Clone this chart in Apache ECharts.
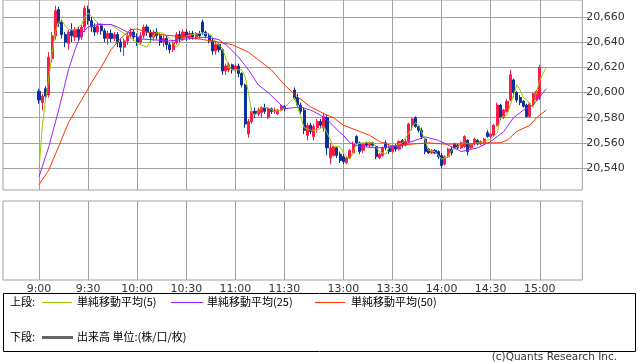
<!DOCTYPE html>
<html><head><meta charset="utf-8">
<script src="https://cdn.jsdelivr.net/npm/echarts@6/dist/echarts.min.js"></script>
<style>html,body{margin:0;padding:0;background:#fff}#c{width:638px;height:362px}</style>
</head><body><div id="c"></div>
<script>
// ---- tick labels ----
const yTicks = [20540, 20560, 20580, 20600, 20620, 20640, 20660];
const xLabelTimes = ['9:00','9:30','10:00','10:30','11:00','11:30','13:00','13:30','14:00','14:30','15:00'];
const gapTimes = ['11:32','11:34'];

// ---- 2-minute candles [open, close, low, high] ----
const amCandles = [
 [20601,20594,20591,20603],[20592,20597,20586,20599],[20603,20597,20595,20605],[20598,20628,20596,20632],
 [20627,20645,20624,20648],[20645,20665,20642,20669],[20666,20655,20652,20668],[20656,20646,20643,20658],
 [20646,20640,20636,20648],[20639,20648,20634,20650],[20649,20645,20640,20655],[20644,20650,20641,20652],
 [20650,20644,20641,20652],[20644,20652,20642,20654],[20652,20667,20648,20669],[20666,20657,20654,20669],
 [20657,20652,20648,20660],[20652,20648,20645,20655],[20648,20653,20646,20656],[20653,20649,20646,20655],
 [20649,20643,20640,20651],[20643,20647,20638,20649],[20647,20643,20640,20650],[20643,20646,20641,20648],
 [20646,20640,20636,20648],[20640,20636,20632,20643],[20636,20641,20629,20643],[20641,20645,20638,20648],
 [20645,20648,20643,20651],[20648,20644,20641,20650],[20644,20640,20637,20647],[20640,20645,20638,20648],
 [20645,20652,20643,20654],[20652,20648,20645,20654],[20648,20644,20640,20650],[20644,20648,20641,20650],
 [20648,20645,20642,20651],[20645,20640,20637,20647],[20640,20643,20636,20646],[20643,20638,20634,20645],
 [20638,20634,20631,20640],[20634,20640,20632,20642],[20640,20646,20638,20648],[20646,20643,20640,20649],
 [20643,20648,20641,20650],[20648,20644,20641,20650],[20644,20647,20642,20649],[20647,20644,20642,20649],
 [20644,20647,20642,20648],[20647,20645,20643,20649],[20656,20648,20646,20658],[20648,20645,20643,20649],
 [20645,20641,20639,20647],[20641,20633,20630,20643],[20633,20638,20630,20641],[20638,20634,20632,20639],
 [20634,20617,20614,20635],[20617,20621,20614,20623],[20618,20622,20616,20624],[20622,20618,20615,20623],
 [20618,20621,20616,20623],[20621,20615,20612,20623],[20615,20606,20604,20616],[20606,20575,20572,20607],
 [20567,20577,20564,20579],[20577,20585,20575,20588],[20585,20583,20580,20588],[20583,20586,20581,20588],
 [20584,20588,20580,20589],[20588,20585,20583,20591],[20580,20587,20579,20588],[20587,20585,20583,20588],
 [20585,20586,20583,20588],[20583,20586,20582,20587],[20586,20589,20585,20590],[20589,20587,20585,20590]
];
const pmCandles = [
 [20602,20595,20594,20604],[20596,20590,20588,20599],[20590,20585,20583,20592],[20586,20570,20567,20588],
 [20566,20574,20562,20576],[20574,20569,20567,20576],[20565,20573,20562,20575],[20572,20577,20568,20579],
 [20577,20574,20572,20579],[20572,20581,20569,20584],[20580,20556,20550,20582],[20548,20556,20543,20560],
 [20550,20557,20549,20558],[20556,20550,20548,20557],[20551,20546,20544,20553],[20549,20545,20543,20551],
 [20544,20548,20543,20549],[20548,20554,20547,20555],[20552,20559,20551,20561],[20565,20560,20559,20566],
 [20560,20553,20551,20561],[20554,20559,20552,20560],[20560,20558,20557,20561],[20558,20560,20556,20561],
 [20560,20558,20557,20561],[20557,20549,20547,20558],[20548,20551,20547,20552],[20550,20556,20549,20557],
 [20560,20556,20554,20562],[20556,20553,20551,20558],[20553,20557,20552,20558],[20557,20555,20553,20559],
 [20555,20561,20554,20562],[20562,20558,20556,20563],[20558,20561,20557,20563],[20561,20575,20560,20576],
 [20574,20579,20570,20580],[20580,20573,20572,20581],[20573,20570,20568,20574],[20570,20565,20563,20572],
 [20563,20553,20551,20564],[20555,20552,20551,20556],[20552,20554,20551,20555],[20554,20552,20551,20555],
 [20553,20549,20547,20554],[20550,20542,20540,20552],[20543,20549,20542,20550],[20549,20555,20548,20556],
 [20555,20552,20550,20557],[20559,20556,20555,20560],[20558,20556,20555,20559],[20556,20560,20555,20561],
 [20557,20565,20556,20566],[20562,20553,20550,20563],[20556,20559,20555,20560],[20559,20563,20558,20564],
 [20562,20559,20558,20563],[20559,20561,20558,20562],[20560,20563,20559,20564],[20568,20565,20564,20570],
 [20565,20567,20564,20568],[20566,20574,20565,20575],[20574,20590,20573,20592],[20590,20580,20578,20591],
 [20580,20586,20579,20587],[20585,20593,20584,20595],[20594,20614,20593,20618],[20610,20600,20596,20611],
 [20600,20594,20592,20601],[20596,20592,20590,20598],[20593,20589,20588,20594],[20590,20581,20580,20591],
 [20581,20591,20580,20592],[20591,20599,20590,20600],[20594,20601,20593,20602],[20596,20620,20594,20622]
];

// ---- moving averages [time, value] ----
const ma5 = [
 ['9:00',20539],['9:02',20573],['9:04',20594],['9:06',20612],['9:08',20631],['9:10',20648],['9:12',20656],
 ['9:14',20657],['9:16',20653],['9:18',20650],['9:20',20650],['9:22',20650],['9:24',20652],['9:26',20654],
 ['9:28',20660],['9:30',20663],['9:32',20661],['9:36',20655],['9:40',20654],['9:44',20654],['9:48',20650],
 ['9:52',20647],['9:56',20644],['10:00',20639],['10:04',20637],['10:06',20636],['10:08',20641],['10:10',20645],
 ['10:12',20648],['10:16',20647],['10:20',20643],['10:24',20636],['10:28',20643],['10:30',20645],['10:34',20646],
 ['10:38',20647],['10:44',20647],['10:46',20644],['10:48',20640],['10:52',20635],['10:54',20628],['10:56',20620],
 ['10:58',20618],['11:02',20618],['11:04',20618],['11:06',20612],['11:08',20600],['11:10',20584],['11:12',20582],
 ['11:16',20588],['11:20',20588],['11:24',20585],['11:28',20586],['11:30',20588],
 ['12:30',20596],['12:32',20589],['12:36',20572],['12:40',20570],['12:44',20570],['12:48',20573],['12:50',20568],
 ['12:54',20557],['12:58',20557],['13:00',20552],['13:02',20549],['13:04',20547],['13:06',20553],['13:08',20559],
 ['13:12',20560],['13:18',20560],['13:22',20553],['13:26',20551],['13:28',20557],['13:32',20558],['13:36',20560],
 ['13:40',20568],['13:44',20576],['13:46',20574],['13:50',20562],['13:52',20554],['13:56',20553],['14:00',20547],
 ['14:04',20549],['14:06',20554],['14:10',20557],['14:14',20560],['14:18',20559],['14:22',20560],['14:26',20561],
 ['14:30',20563],['14:34',20568],['14:36',20580],['14:40',20582],['14:44',20598],['14:46',20606],['14:48',20602],
 ['14:50',20596],['14:52',20594],['14:56',20588],['14:58',20600],['15:00',20610],['15:02',20615],['15:04',20620]
];
const ma25 = [
 ['9:00',20533],['9:06',20557],['9:12',20586],['9:18',20618],['9:22',20634],['9:26',20647],['9:30',20652],
 ['9:36',20654],['9:44',20654],['9:48',20652],['9:54',20648],['10:02',20642.5],['10:08',20642],['10:20',20641],
 ['10:30',20642.5],['10:42',20644],['10:50',20642],['10:56',20636],['11:02',20628],['11:08',20618],['11:14',20606],
 ['11:20',20600],['11:28',20590],['11:30',20587],
 ['12:30',20588],['12:34',20588.5],['12:40',20586],['12:46',20582],['12:52',20576],['12:58',20568],['13:00',20566],
 ['13:04',20560],['13:10',20557],['13:22',20556],['13:34',20557.6],['13:44',20562],['13:50',20564.7],['13:58',20562],
 ['14:06',20557],['14:12',20553],['14:22',20556],['14:30',20561],['14:38',20569],['14:44',20580],['14:50',20586],
 ['14:56',20590],['15:04',20603]
];
const ma50 = [
 ['9:00',20526.6],['9:06',20538.5],['9:12',20557],['9:18',20576],['9:26',20594],['9:32',20607.6],['9:38',20620],
 ['9:44',20634],['9:50',20643],['9:56',20650],['10:00',20650.5],['10:06',20648],['10:16',20645.7],['10:30',20644],
 ['10:38',20642.5],['10:50',20640],['10:58',20638],['11:08',20632],['11:14',20626],['11:22',20618],['11:30',20606],
 ['12:32',20596.5],['12:40',20588.5],['12:50',20582],['12:54',20580],['13:00',20574],['13:08',20570],['13:16',20566],
 ['13:22',20561],['13:30',20557.6],['13:42',20559],['13:52',20560],['14:02',20559],['14:12',20559],['14:30',20560],
 ['14:36',20560],['14:40',20562],['14:46',20569],['14:54',20574],['14:58',20580],['15:04',20586]
];

// ---- build category axis (2-minute slots) ----
function slots(fromMin, toMin) {
  const out = [];
  for (let m = fromMin; m <= toMin; m += 2) out.push(Math.floor(m / 60) + ':' + String(m % 60).padStart(2, '0'));
  return out;
}
const preTimes = slots(8 * 60 + 38, 8 * 60 + 58);
const amTimes = slots(9 * 60, 11 * 60 + 30);
const pmTimes = slots(12 * 60 + 30, 15 * 60);
const postTimes = slots(15 * 60 + 2, 15 * 60 + 26);
const categories = [...preTimes, ...amTimes, ...gapTimes, ...pmTimes, ...postTimes];
const idx = {};
categories.forEach((c, i) => { idx[c] = i; });

const candleData = [];
amTimes.forEach((t, i) => candleData.push([idx[t], ...amCandles[i]]));
pmTimes.forEach((t, i) => candleData.push([idx[t], ...pmCandles[i]]));
const toXY = arr => arr.map(p => [idx[p[0]], p[1]]);

const fmt = v => String(v).replace(/\B(?=(\d{3})+(?!\d))/g, ',');
const showLabel = (i, v) => xLabelTimes.includes(v);
const GRID = '#a0a0a0';
const JP = '11px "Noto Sans CJK JP"';

const chart = echarts.init(document.getElementById('c'), null, { renderer: 'canvas' });
chart.setOption({
  animation: false,
  backgroundColor: '#fff',
  grid: [
    { left: 3, right: 55.7, top: 0, height: 190, show: true, borderColor: GRID, borderWidth: 1, backgroundColor: 'transparent' },
    { left: 3, right: 55.7, top: 201, height: 79, show: true, borderColor: GRID, borderWidth: 1, backgroundColor: 'transparent' }
  ],
  xAxis: [
    { type: 'category', gridIndex: 0, data: categories, boundaryGap: false,
      axisLine: { show: false }, axisTick: { show: false }, axisLabel: { show: false },
      splitLine: { show: true, interval: showLabel, lineStyle: { color: GRID, width: 1 } } },
    { type: 'category', gridIndex: 1, data: categories, boundaryGap: false,
      axisLine: { show: false }, axisTick: { show: false },
      axisLabel: { show: true, interval: showLabel, margin: 4, color: '#333', fontSize: 11, fontFamily: 'DejaVu Sans' },
      splitLine: { show: true, interval: showLabel, lineStyle: { color: GRID, width: 1 } } }
  ],
  yAxis: [
    { type: 'value', gridIndex: 0, position: 'right', min: 20522.5, max: 20673.5, scale: true,
      axisLine: { show: false },
      axisTick: { show: true, length: 6, customValues: yTicks, lineStyle: { color: GRID } },
      axisLabel: { show: true, customValues: yTicks, margin: 4, color: '#333', fontSize: 11, fontFamily: 'DejaVu Sans', formatter: fmt },
      splitLine: { show: true, lineStyle: { color: GRID, width: 1 } } },
    { type: 'value', gridIndex: 1, show: false, splitLine: { show: false } }
  ],
  series: [
    { type: 'candlestick', xAxisIndex: 0, yAxisIndex: 0, data: candleData,
      encode: { x: 0, y: [1, 2, 3, 4] }, barWidth: 2.6,
      itemStyle: { color: '#ff1a4d', color0: '#0a3399', borderColor: '#ff1a4d', borderColor0: '#0a3399', borderWidth: 1 } },
    { type: 'line', name: '単純移動平均(5)', data: toXY(ma5), showSymbol: false, z: 5,
      lineStyle: { color: '#99cc00', width: 1 } },
    { type: 'line', name: '単純移動平均(25)', data: toXY(ma25), showSymbol: false, z: 5,
      lineStyle: { color: '#9922ff', width: 1 } },
    { type: 'line', name: '単純移動平均(50)', data: toXY(ma50), showSymbol: false, z: 5,
      lineStyle: { color: '#ff3300', width: 1 } }
  ],
  graphic: [
    { type: 'rect', shape: { x: 3.5, y: 293.5, width: 632, height: 58 }, style: { fill: '#fff', stroke: '#000', lineWidth: 1 } },
    { type: 'text', left: 10, top: 296, style: { text: '上段:', font: JP, fill: '#000' } },
    { type: 'line', shape: { x1: 42, y1: 302.5, x2: 72, y2: 302.5 }, style: { stroke: '#99cc00', lineWidth: 1 } },
    { type: 'text', left: 77, top: 296, style: { text: '単純移動平均(5)', font: JP, fill: '#000' } },
    { type: 'line', shape: { x1: 171, y1: 302.5, x2: 203, y2: 302.5 }, style: { stroke: '#9922ff', lineWidth: 1 } },
    { type: 'text', left: 207, top: 296, style: { text: '単純移動平均(25)', font: JP, fill: '#000' } },
    { type: 'line', shape: { x1: 315, y1: 302.5, x2: 345, y2: 302.5 }, style: { stroke: '#ff3300', lineWidth: 1 } },
    { type: 'text', left: 351, top: 296, style: { text: '単純移動平均(50)', font: JP, fill: '#000' } },
    { type: 'text', left: 10, top: 331, style: { text: '下段:', font: JP, fill: '#000' } },
    { type: 'line', shape: { x1: 42, y1: 337.5, x2: 73, y2: 337.5 }, style: { stroke: '#666', lineWidth: 3 } },
    { type: 'text', left: 77, top: 331, style: { text: '出来高 単位:(株/口/枚)', font: JP, fill: '#000' } },
    { type: 'text', right: 21, top: 352, style: { text: '(c)Quants Research Inc.', font: '10.5px "DejaVu Sans"', fill: '#333' } }
  ]
});
</script></body></html>
